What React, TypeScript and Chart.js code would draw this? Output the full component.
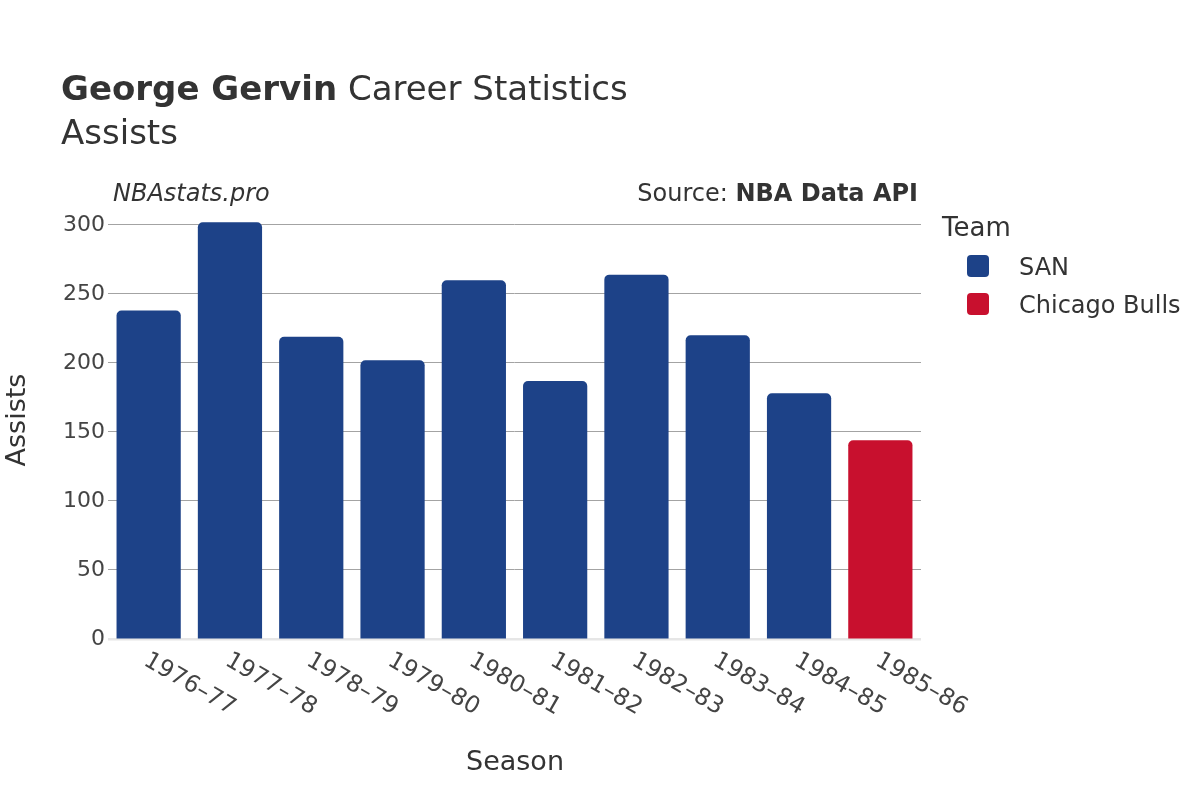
import React, { useEffect, useRef } from "react";
import { Chart, registerables } from "chart.js";

Chart.register(...registerables);

const seasons = ["1976–77", "1977–78", "1978–79", "1979–80", "1980–81", "1981–82", "1982–83", "1983–84", "1984–85", "1985–86"];
const sanAssists = [238, 302, 219, 202, 260, 187, 264, 220, 178, null];
const bullsAssists = [null, null, null, null, null, null, null, null, null, 144];
const teams = ["SAN", "Chicago Bulls"];
const teamColors = ["#1d4288", "#c8102e"];
const yTicks = [0, 50, 100, 150, 200, 250, 300];
const yMax = 317;

const FONT = "'DejaVu Sans', sans-serif";

const decorPlugin = {
  id: "decor",
  beforeDatasetsDraw(chart: any) {
    const { ctx, chartArea, scales } = chart;
    const y0 = scales.y.getPixelForValue(0);
    ctx.save();
    ctx.fillStyle = "#e6e6e6";
    ctx.fillRect(chartArea.left, y0 - 1, chartArea.right - chartArea.left, 2.5);
    ctx.restore();
  },
  afterDraw(chart: any) {
    const { ctx, scales } = chart;
    ctx.save();
    ctx.fillStyle = "#333333";
    ctx.textBaseline = "alphabetic";
    ctx.textAlign = "left";
    // Title
    ctx.font = `bold 34px ${FONT}`;
    const t1 = "George Gervin";
    ctx.fillText(t1, 61, 100);
    const w1 = ctx.measureText(t1).width;
    ctx.font = `34px ${FONT}`;
    ctx.fillText(" Career Statistics", 61 + w1, 100);
    ctx.fillText("Assists", 61, 144);

    // Watermark / source
    ctx.font = `italic 24px ${FONT}`;
    ctx.fillText("NBAstats.pro", 113, 201);
    ctx.font = `bold 24px ${FONT}`;
    const srcB = "NBA Data API";
    const wb = ctx.measureText(srcB).width;
    ctx.fillText(srcB, 918 - wb, 201);
    ctx.font = `24px ${FONT}`;
    const srcN = "Source: ";
    const wn = ctx.measureText(srcN).width;
    ctx.fillText(srcN, 918 - wb - wn, 201);

    // Legend
    ctx.font = `26px ${FONT}`;
    ctx.fillText("Team", 942, 236);
    teams.forEach((name, i) => {
      const sy = 255 + i * 38;
      ctx.fillStyle = teamColors[i];
      ctx.beginPath();
      (ctx as any).roundRect(967, sy, 22, 22, 4);
      ctx.fill();
      ctx.fillStyle = "#333333";
      ctx.font = `24px ${FONT}`;
      ctx.fillText(name, 1019, sy + 20);
    });

    // Axis titles
    ctx.font = `27px ${FONT}`;
    ctx.textAlign = "center";
    ctx.fillText("Season", 515, 770);
    ctx.save();
    ctx.translate(18, 420);
    ctx.rotate(-Math.PI / 2);
    ctx.textBaseline = "middle";
    ctx.fillText("Assists", 0, 0);
    ctx.restore();

    // X tick labels rotated
    ctx.font = `23.5px ${FONT}`;
    ctx.fillStyle = "#444444";
    ctx.textAlign = "left";
    ctx.textBaseline = "middle";
    const yb = scales.y.getPixelForValue(0);
    seasons.forEach((s, i) => {
      const x = scales.x.getPixelForValue(i);
      ctx.save();
      ctx.translate(x - 3, yb + 20);
      ctx.rotate((30 * Math.PI) / 180);
      ctx.fillText(s, 0, 0);
      ctx.restore();
    });
    ctx.restore();
  },
};

export default function App() {
  const ref = useRef<HTMLCanvasElement | null>(null);
  useEffect(() => {
    if (!ref.current) return;
    const chart = new Chart(ref.current, {
      type: "bar",
      data: {
        labels: seasons,
        datasets: [
          {
            label: teams[0],
            data: sanAssists,
            backgroundColor: teamColors[0],
            borderRadius: { topLeft: 5, topRight: 5, bottomLeft: 0, bottomRight: 0 },
            borderSkipped: false,
            barPercentage: 0.79,
            categoryPercentage: 1,
          },
          {
            label: teams[1],
            data: bullsAssists,
            backgroundColor: teamColors[1],
            borderRadius: { topLeft: 5, topRight: 5, bottomLeft: 0, bottomRight: 0 },
            borderSkipped: false,
            barPercentage: 0.79,
            categoryPercentage: 1,
          },
        ],
      },
      options: {
        responsive: false,
        animation: false,
        devicePixelRatio: 1,
        layout: { padding: { left: 0, right: 279, top: 201.5, bottom: 161 } },
        plugins: {
          legend: { display: false },
          title: { display: false },
          tooltip: { enabled: false },
        },
        scales: {
          x: {
            stacked: true,
            grid: { display: false },
            border: { display: false },
            ticks: { display: false },
            afterFit: (scale: any) => {
              scale.height = 0;
            },
          },
          y: {
            stacked: true,
            min: 0,
            max: yMax,
            border: { display: false },
            grid: {
              drawTicks: false,
              color: (c: any) => (c.tick && c.tick.value === 0 ? "rgba(0,0,0,0)" : "#a3a3a3"),
              lineWidth: 1,
            },
            ticks: {
              padding: 3,
              color: "#444444",
              font: { family: FONT, size: 22 },
            },
            afterBuildTicks: (scale: any) => {
              scale.ticks = yTicks.map((v) => ({ value: v }));
            },
            afterFit: (scale: any) => {
              scale.width = 108;
            },
          },
        },
      },
      plugins: [decorPlugin],
    });
    return () => chart.destroy();
  }, []);
  return (
    <div style={{ position: "absolute", left: 0, top: 0, width: 1200, height: 800, background: "#ffffff" }}>
      <canvas ref={ref} width={1200} height={800} style={{ display: "block" }} />
    </div>
  );
}
